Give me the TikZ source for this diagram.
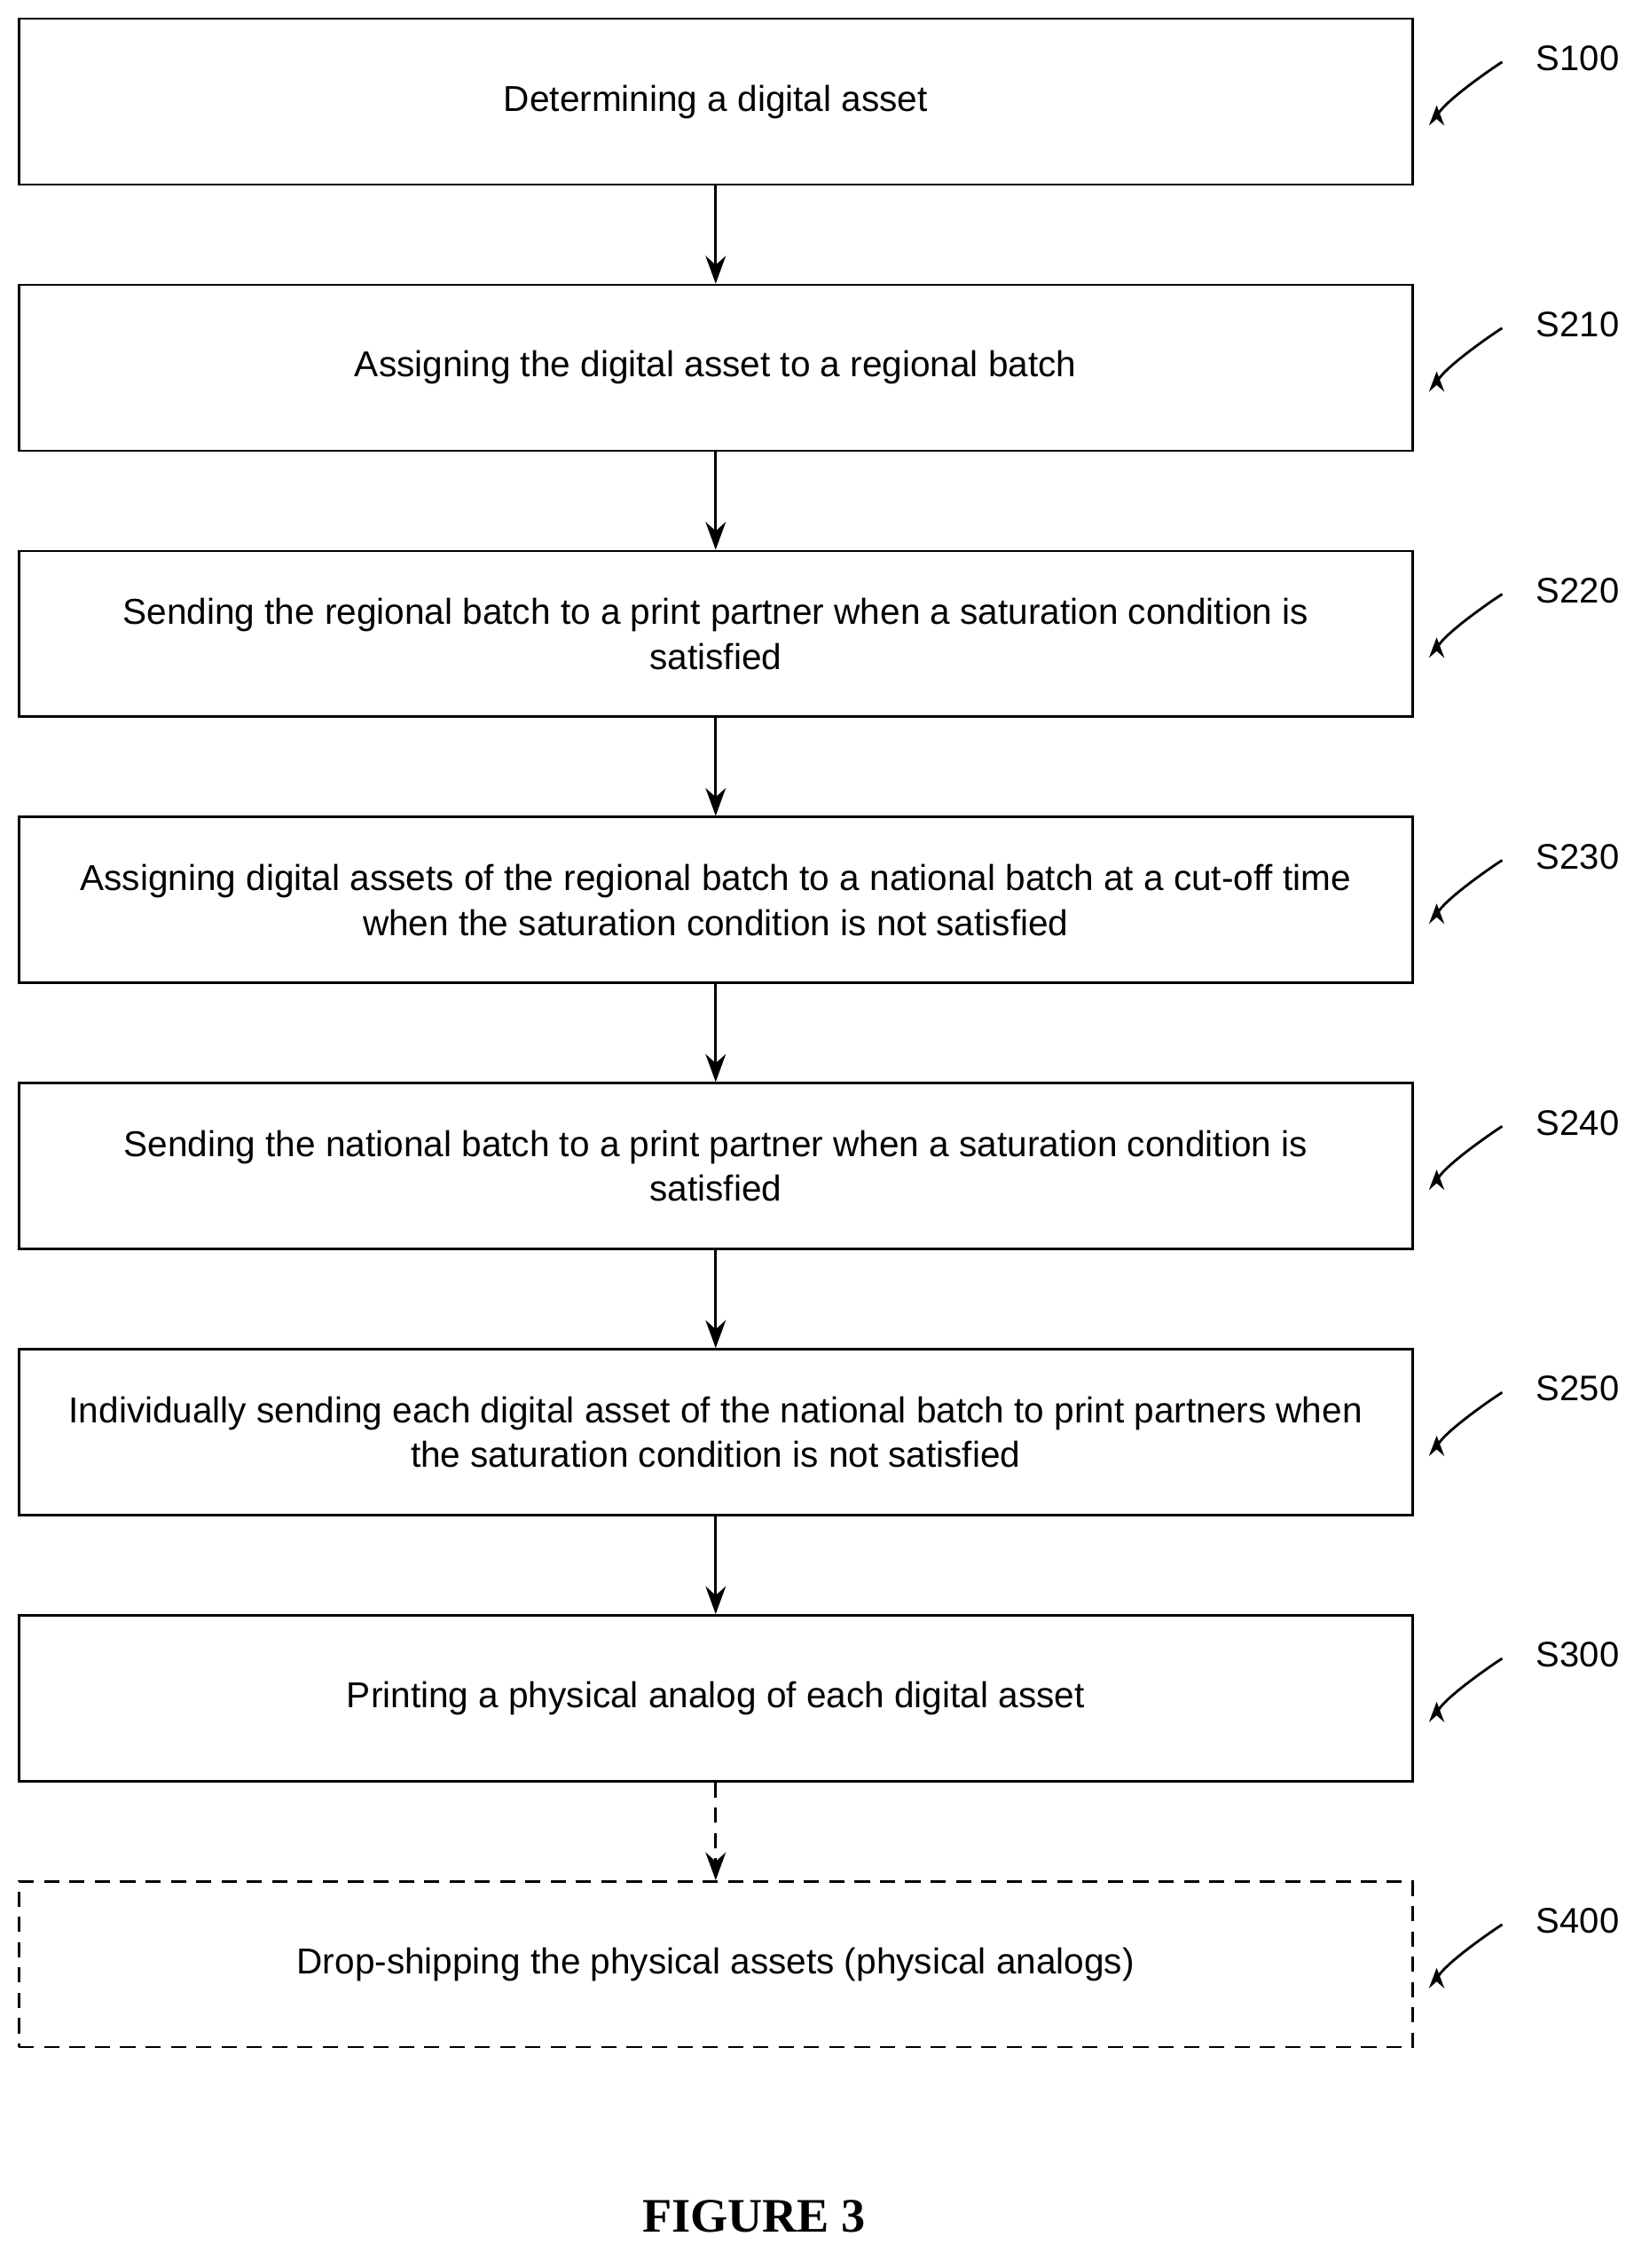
\documentclass[tikz,border=0pt]{standalone}
\usepackage{fontspec}
\setmainfont{Liberation Sans}
\newfontfamily\figfont{Liberation Serif}
\usetikzlibrary{positioning,arrows.meta}

\begin{document}
\begin{tikzpicture}[x=0.02cm,y=-0.02cm]
    % styles for the steps
    \tikzset{
      stepbox/.style={draw, line width=0.9pt, minimum width=19.34cm, minimum height=2.3cm,
        align=center, font=\fontsize{14.2}{17.8}\selectfont},
      flow/.style={-{Stealth[length=11pt,width=8pt]}, line width=1pt},
      steplbl/.style={font=\fontsize{14}{16}\selectfont},
      hook/.style={-{Stealth[length=8pt,width=6pt]}, line width=1pt}
    }
    \useasboundingbox (0,0) rectangle (1133,1573);

    % steps
    \node[stepbox] (s100) at (496.5,70.5) {Determining a digital asset};
    \node[stepbox, below=1.36cm of s100] (s210) {Assigning the digital asset to a regional batch};
    \node[stepbox, below=1.36cm of s210] (s220) {Sending the regional batch to a print partner when a saturation condition is\\satisfied};
    \node[stepbox, below=1.36cm of s220] (s230) {Assigning digital assets of the regional batch to a national batch at a cut-off time\\when the saturation condition is not satisfied};
    \node[stepbox, below=1.36cm of s230] (s240) {Sending the national batch to a print partner when a saturation condition is\\satisfied};
    \node[stepbox, below=1.36cm of s240] (s250) {Individually sending each digital asset of the national batch to print partners when\\the saturation condition is not satisfied};
    \node[stepbox, below=1.36cm of s250] (s300) {Printing a physical analog of each digital asset};
    \node[stepbox, dashed, dash pattern=on 6pt off 4pt, below=1.36cm of s300] (s400) {Drop-shipping the physical assets (physical analogs)};

    % connectors
    \foreach \a/\b in {s100/s210,s210/s220,s220/s230,s230/s240,s240/s250,s250/s300}
      \draw[flow] (\a) -- (\b);
    \draw[flow, dashed, dash pattern=on 6pt off 4pt] (s300) -- (s400);

    % step labels with hooks
    \foreach \s/\t in {s100/S100,s210/S210,s220/S220,s230/S230,s240/S240,s250/S250,s300/S300,s400/S400}{
      \node[steplbl, anchor=west] (\s-lbl) at ([xshift=1.58cm,yshift=0.6cm]\s.east) {\t};
      \coordinate (\s-tip) at ([xshift=0.32cm,yshift=-0.05cm]\s.east);
      \draw[hook] ([xshift=-0.35cm,yshift=-0.05cm]\s-lbl.west) .. controls +(-0.6,0) and +(0,0.2) .. (\s-tip);
    }

    % caption
    \node[font=\figfont\bfseries\fontsize{19}{22}\selectfont] (cap) at (523,1537) {FIGURE 3};
\end{tikzpicture}
\end{document}
